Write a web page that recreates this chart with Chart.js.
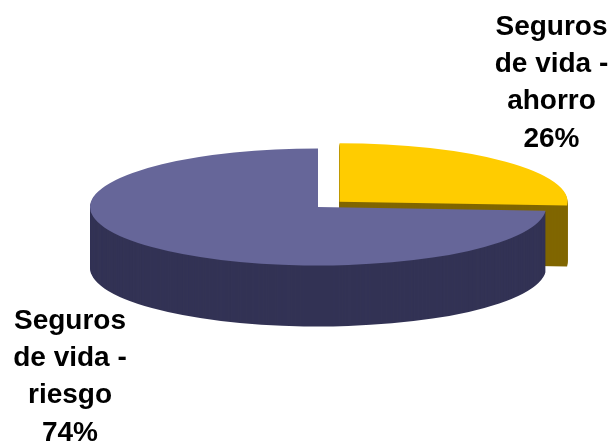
<!DOCTYPE html>
<html lang="es">
<head>
<meta charset="utf-8">
<title>Seguros de vida</title>
<script src="https://cdn.jsdelivr.net/npm/chart.js@4"></script>
<style>
  html, body { margin: 0; padding: 0; background: #fff; }
  canvas { display: block; }
</style>
</head>
<body>
<canvas id="pie" width="611" height="442"></canvas>
<script>
/* ========== Data ========== */
const categories = ['Seguros de vida - ahorro', 'Seguros de vida - riesgo'];
const shares = [26, 74];
const topColors = ['#ffcc00', '#666699'];
const wallColors = ['#806600', '#333355'];

/* ========== Tilted disc settings ========== */
const tilt = 0.2566;    // vertical squash of the disc
const depth = 61;       // wall height in px

// squash around the pie centre, dy moves the disc down for the wall layers
function applyTilt(ctx, arc, dy) {
  ctx.translate(arc.x, arc.y + dy);
  ctx.scale(1, tilt);
  ctx.translate(-arc.x, -arc.y);
}

const tiltedDisc = {
  id: 'tiltedDisc',
  // walls: repeat each slice from the bottom up in the dark colour
  beforeDatasetsDraw(chart) {
    const ctx = chart.ctx;
    const arcs = chart.getDatasetMeta(0).data;
    arcs.forEach((arc, i) => {
      const opts = arc.options;
      arc.options = { ...opts, backgroundColor: wallColors[i], borderWidth: 0 };
      for (let dy = depth; dy > 0; dy--) {
        ctx.save();
        applyTilt(ctx, arc, dy);
        arc.draw(ctx);
        ctx.restore();
      }
      arc.options = opts;
    });
  },
  // top faces go through the normal dataset draw
  beforeDatasetDraw(chart) {
    chart.ctx.save();
    applyTilt(chart.ctx, chart.getDatasetMeta(0).data[0], 0);
  },
  afterDatasetDraw(chart) {
    chart.ctx.restore();
  }
};

/* ========== Slice captions ========== */
const captionPlace = [
  { x: 551.5, y: 34.5 },
  { x: 70, y: 328.5 }
];

function captionLines(name, share) {
  const [head, tail] = name.split(' - ');
  const words = head.split(' ');
  return [words[0], words.slice(1).join(' ') + ' -', tail, share + '%'];
}

const captions = {
  id: 'captions',
  afterDraw(chart) {
    const ctx = chart.ctx;
    ctx.save();
    ctx.font = 'bold 28px "Liberation Sans", Arial, sans-serif';
    ctx.fillStyle = '#000';
    ctx.textAlign = 'center';
    categories.forEach((name, i) => {
      captionLines(name, shares[i]).forEach((line, n) => {
        ctx.fillText(line, captionPlace[i].x, captionPlace[i].y + n * 37.4);
      });
    });
    ctx.restore();
  }
};

/* ========== Pie ========== */
new Chart(document.getElementById('pie'), {
  type: 'pie',
  data: {
    labels: categories,
    datasets: [{
      data: shares,
      backgroundColor: topColors,
      borderWidth: 0,
      offset: [118, 0],
      clip: false
    }]
  },
  options: {
    responsive: false,
    animation: false,
    events: [],
    radius: 228,
    layout: { padding: { left: 25, bottom: 28 } },
    plugins: { legend: { display: false }, tooltip: { enabled: false } }
  },
  plugins: [tiltedDisc, captions]
});
</script>
</body>
</html>
